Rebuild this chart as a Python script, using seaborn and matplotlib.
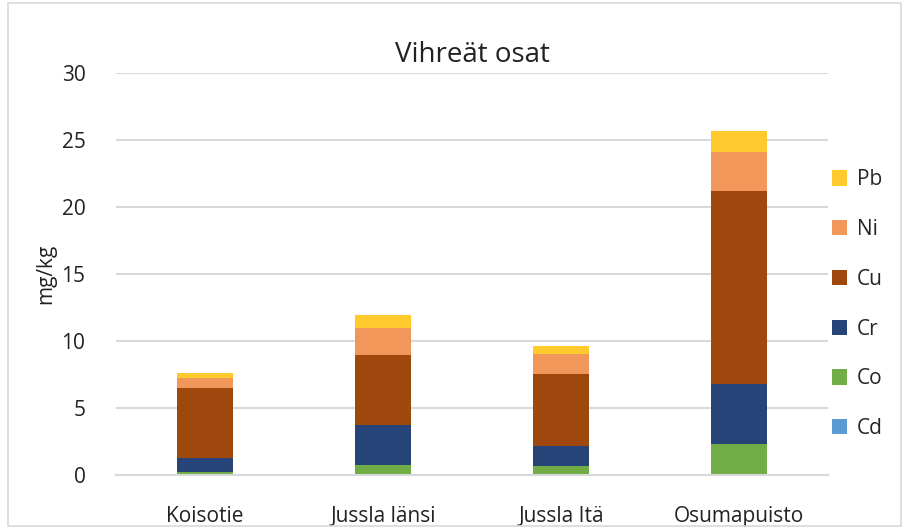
import matplotlib
matplotlib.use("Agg")
import matplotlib.pyplot as plt
import seaborn as sns
import numpy as np
import pandas as pd
from matplotlib.patches import Patch, Rectangle

categories = ["Koisotie", "Jussla länsi", "Jussla Itä", "Osumapuisto"]
Cd = [0.02, 0.02, 0.02, 0.03]
Co = [0.23, 0.75, 0.67, 2.30]
Cr = [1.05, 2.98, 1.44, 4.47]
Cu = [5.20, 5.20, 5.40, 14.36]
Ni = [0.75, 2.00, 1.52, 2.94]
Pb = [0.38, 1.00, 0.59, 1.54]
series_names = ["Cd", "Co", "Cr", "Cu", "Ni", "Pb"]
series_values = [Cd, Co, Cr, Cu, Ni, Pb]
colors = ["#5B9BD5", "#70AD47", "#264478", "#9E480E", "#F1975A", "#FFCA2E"]
yticks = [0, 5, 10, 15, 20, 25, 30]

sns.set_theme(style="white")
plt.rcParams["font.family"] = ["Open Sans", "DejaVu Sans"]

fig = plt.figure(figsize=(9.06, 5.29), dpi=100)
ax = fig.add_axes([0.128, 0.102, 0.786, 0.7606])

bottom = np.zeros(len(categories))
for name, vals, col in zip(series_names, series_values, colors):
    df = pd.DataFrame({"cat": categories, "val": vals})
    sns.barplot(data=df, x="cat", y="val", color=col, bottom=bottom,
                width=0.31, ax=ax, errorbar=None, saturation=1,
                edgecolor="none", linewidth=0)
    bottom = bottom + np.array(vals)

ax.set_ylim(0, 30)
ax.set_yticks(yticks)
ax.set_xlim(-0.5, len(categories) - 0.5)
ax.yaxis.grid(True, color="#D9D9D9", linewidth=1.5)
ax.set_axisbelow(True)
for s in ["top", "right", "left"]:
    ax.spines[s].set_visible(False)
ax.spines["bottom"].set_color("#D9D9D9")
ax.spines["bottom"].set_linewidth(1.5)
ax.tick_params(axis="both", length=0, labelsize=15, colors="#222222")
ax.tick_params(axis="y", pad=22)
ax.tick_params(axis="x", pad=22)
ax.set_xlabel("")
ax.set_ylabel("mg/kg", fontsize=15, color="#222222", labelpad=4)
ax.set_title("Vihreät osat", fontsize=20, color="#222222", pad=8)

handles = [Patch(facecolor=c, edgecolor="none") for c in colors][::-1]
labels = series_names[::-1]
leg = fig.legend(handles, labels, loc="center left", bbox_to_anchor=(0.918, 0.425),
                 frameon=False, fontsize=15, handlelength=0.75, handleheight=0.75,
                 handletextpad=0.45, labelspacing=1.38, borderpad=0, borderaxespad=0)

fig.patches.append(Rectangle((0.009, 0.005), 0.985, 0.99, transform=fig.transFigure,
                             fill=False, edgecolor="#D9D9D9", linewidth=1.2))

fig.savefig("out.png", dpi=100)
